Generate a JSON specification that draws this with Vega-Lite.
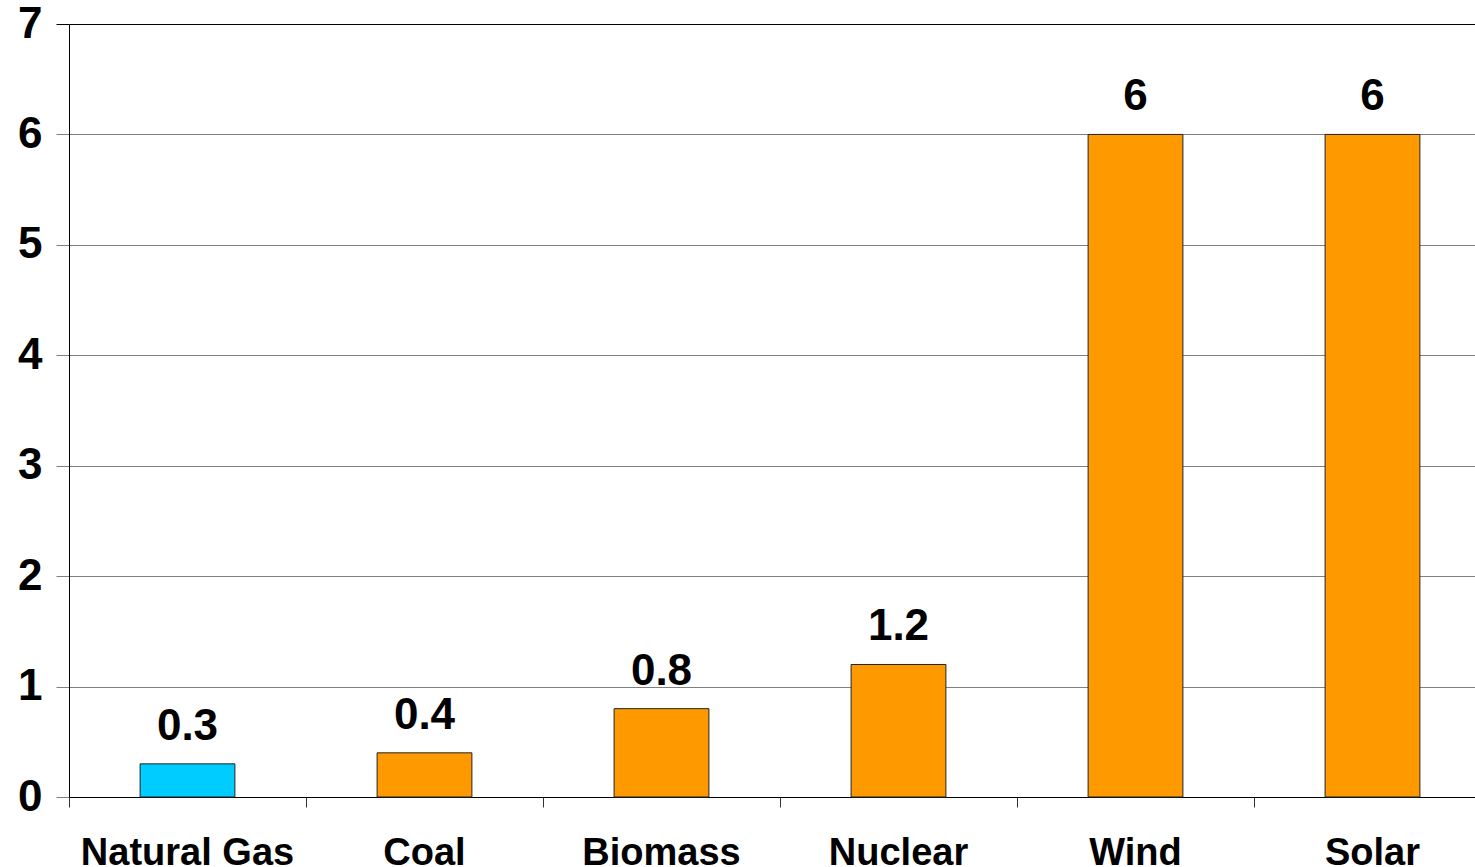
{
  "$schema": "https://vega.github.io/schema/vega-lite/v6.json",
  "autosize": "none",
  "width": 1422,
  "height": 773,
  "padding": {"left": 69, "top": 24, "right": 0, "bottom": 70},
  "background": "white",
  "config": {"view": {"stroke": null}, "font": "Liberation Sans"},
  "data": {"values": [
    {"source": "Natural Gas", "value": 0.3, "group": "gas"},
    {"source": "Coal", "value": 0.4, "group": "other"},
    {"source": "Biomass", "value": 0.8, "group": "other"},
    {"source": "Nuclear", "value": 1.2, "group": "other"},
    {"source": "Wind", "value": 6, "group": "other"},
    {"source": "Solar", "value": 6, "group": "other"}
  ]},
  "encoding": {
    "x": {"field": "source", "type": "nominal", "sort": null,
      "scale": {"paddingInner": 0, "paddingOuter": 0},
      "axis": {"title": null, "labelAngle": 0, "bandPosition": 0,
        "labelFont": "Liberation Sans", "labelFontSize": 38, "labelFontWeight": "bold", "labelColor": "black",
        "labelBaseline": "top", "labelPadding": 27, "tickSize": 10, "tickColor": "#333", "domainColor": "black",
        "labelBound": false, "labelOverlap": false, "labelLimit": 0}},
    "y": {"field": "value", "type": "quantitative",
      "scale": {"domain": [0, 7], "nice": false},
      "axis": {"title": null, "values": [0, 1, 2, 3, 4, 5, 6, 7], "grid": true,
        "gridColor": {"condition": {"test": "datum.value == 7", "value": "black"}, "value": "#808080"},
        "tickColor": {"condition": {"test": "datum.value == 7", "value": "black"}, "value": "#808080"},
        "gridWidth": 1, "tickSize": 13, "labelPadding": 14, "domainColor": "black",
        "labelFont": "Liberation Sans", "labelFontSize": 44, "labelFontWeight": "bold", "labelColor": "black",
        "labelBound": false}}
  },
  "layer": [
    {"mark": {"type": "bar", "width": {"band": 0.4}, "stroke": "#222", "strokeWidth": 1},
      "encoding": {"color": {"field": "group", "type": "nominal",
        "scale": {"domain": ["gas", "other"], "range": ["#00CCFF", "#FF9900"]}, "legend": null}}},
    {"mark": {"type": "text", "baseline": "alphabetic", "dy": -24, "font": "Liberation Sans", "fontSize": 44, "fontWeight": "bold", "color": "black"},
      "encoding": {"text": {"field": "value", "type": "quantitative"}}}
  ]
}
